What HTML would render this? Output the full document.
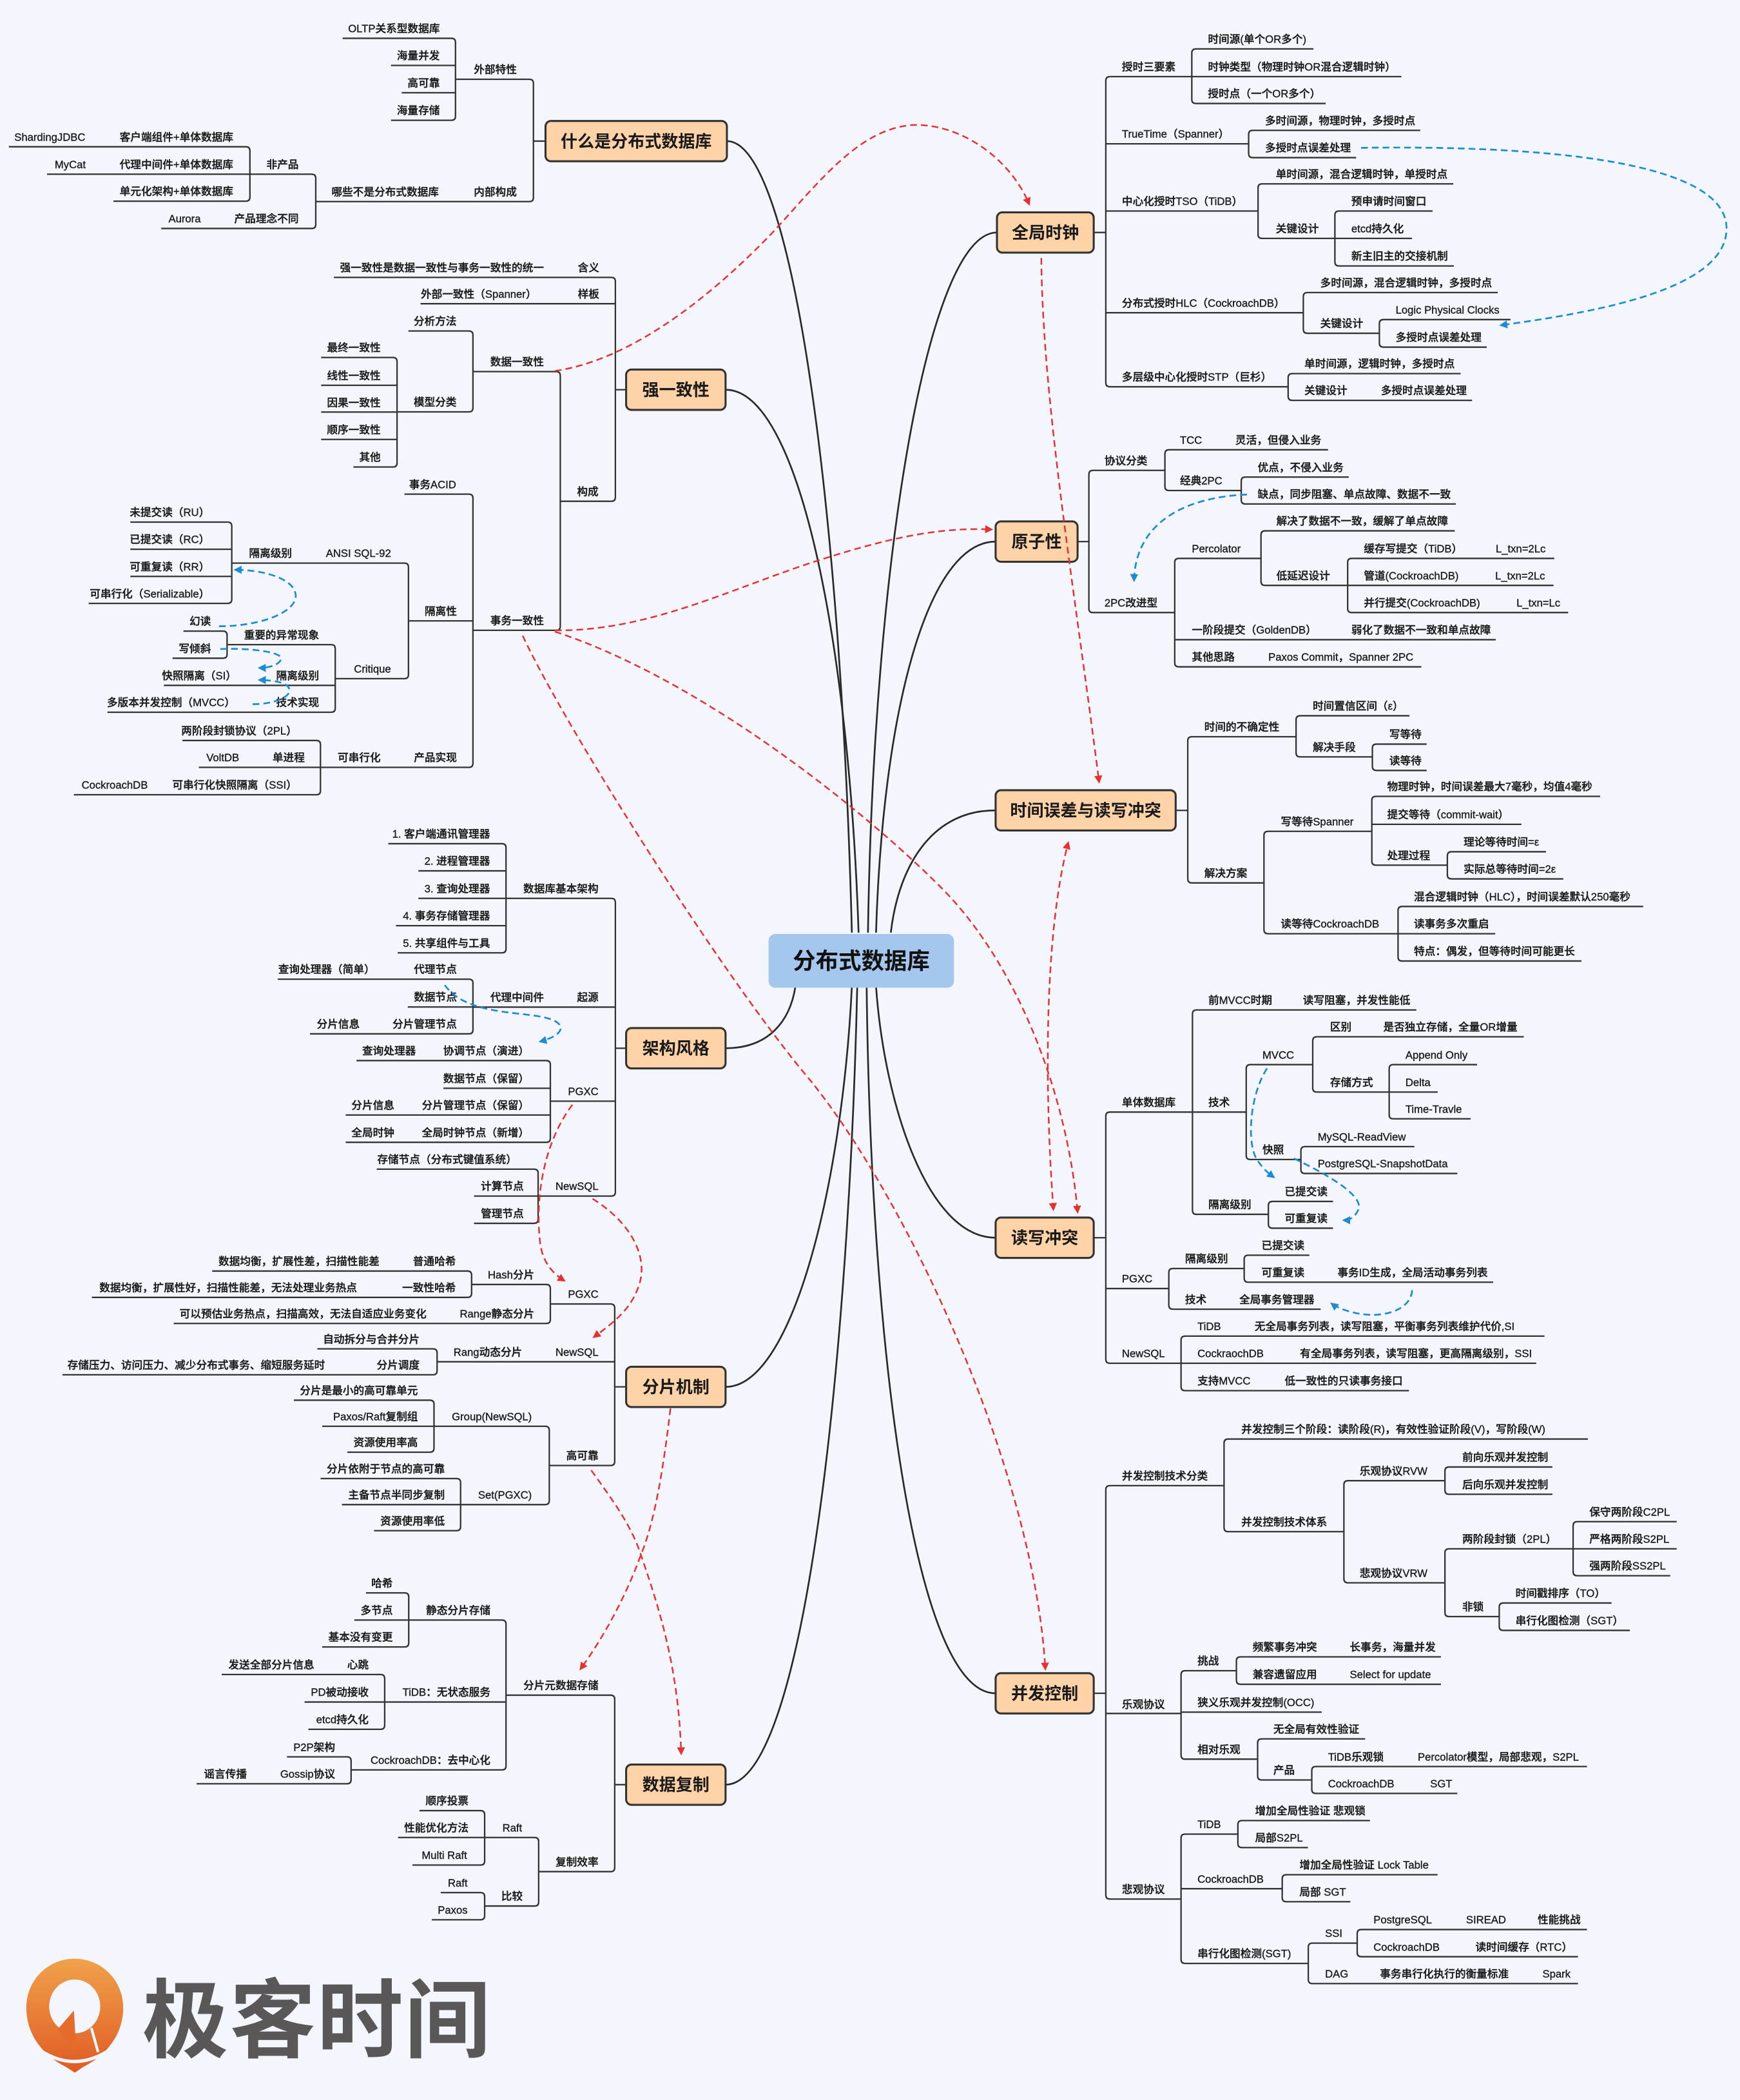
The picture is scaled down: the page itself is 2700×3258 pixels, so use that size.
<!DOCTYPE html>
<html><head><meta charset="utf-8">
<style>
html,body{margin:0;padding:0;background:#f3f7fd;}
svg{display:block}
text{font-family:"Liberation Sans","Noto Sans CJK SC",sans-serif;font-size:8px;fill:#1c1c1c;font-weight:500;stroke:#1c1c1c;stroke-width:0.18}
.e{text-anchor:end}
.m{font-size:12.5px;font-weight:bold;text-anchor:middle;fill:#1a1a1a;stroke:none}
.c{font-size:17px;font-weight:bold;text-anchor:middle;fill:#111;stroke:none}
.tr path{fill:none;stroke:#333;stroke-width:1.1}
.mn rect{fill:#fdd3a7;stroke:#333;stroke-width:1.5}
.cv path{fill:none;stroke:#2a2a2a;stroke-width:1.3}
.rd path{fill:none;stroke:#e8312f;stroke-width:1.2;stroke-dasharray:5 3}
.bl path{fill:none;stroke:#1d8ad8;stroke-width:1.3;stroke-dasharray:5 3}
</style></head><body>
<svg xmlns="http://www.w3.org/2000/svg" width="2700" height="3258" viewBox="0 0 1295 1562.63">
<defs>
<marker id="ar" viewBox="0 0 10 10" refX="8" refY="5" markerWidth="6" markerHeight="6" markerUnits="userSpaceOnUse" orient="auto-start-reverse"><path d="M0,0 L10,5 L0,10 z" fill="#e8312f"/></marker>
<marker id="ab" viewBox="0 0 10 10" refX="8" refY="5" markerWidth="6" markerHeight="6" markerUnits="userSpaceOnUse" orient="auto"><path d="M0,0 L10,5 L0,10 z" fill="#1d8ad8"/></marker>
<linearGradient id="og" x1="0" y1="0" x2="0" y2="1"><stop offset="0" stop-color="#f0a24a"/><stop offset="1" stop-color="#e05a24"/></linearGradient>
</defs>
<rect x="0" y="0" width="1295" height="1562.63" fill="#f3f7fd"/>

<!-- central curves -->
<g class="cv">
<path d="M541,105 C590,105 626,380 634,694"/>
<path d="M540,290 C595,290 632,480 639,694"/>
<path d="M742,173 C690,173 650,420 646,694"/>
<path d="M741,403 C690,403 657,530 652,694"/>
<path d="M741,603 C690,603 668,650 663,694"/>
<path d="M540,780 C572,780 588,760 592,734"/>
<path d="M540,1032 C590,1032 627,880 634,734"/>
<path d="M540,1328 C600,1328 632,1000 638,734"/>
<path d="M741,921 C690,921 658,820 652,734"/>
<path d="M741,1260 C680,1260 648,1000 645,734"/>
</g>

<!-- trees -->
<g class="tr">
<!-- A -->
<path d="M397,105 H406"/>
<path d="M339,59 H394 Q397,59 397,62 V147 Q397,150 394,150 H235"/>
<path d="M255,28.5 H336 Q339,28.5 339,31.5 V86.5 Q339,89.5 336,89.5 H291 M291,48.7 H339 M299,69 H339"/>
<path d="M35,129.6 H232 Q235,129.6 235,132.6 V167 Q235,170 232,170 H120"/>
<path d="M6.6,109.2 H183 Q186,109.2 186,112.2 V146.7 Q186,149.7 183,149.7 H84.4"/>
<!-- B -->
<path d="M458,290 H466"/>
<path d="M248.5,206.4 H455 Q458,206.4 458,209.4 V370 Q458,373 455,373 H417 M313,226 H458"/>
<path d="M352,276.5 H414 Q417,276.5 417,279.5 V466 Q417,469 414,469 H352"/>
<path d="M304,246.3 H349 Q352,246.3 352,249.3 V303.5 Q352,306.5 349,306.5 H295.5"/>
<path d="M239,266 H292.5 Q295.5,266 295.5,269 V344.5 Q295.5,347.5 292.5,347.5 H263 M239,286.7 H295.5 M239,306.6 H295.5 M239,327 H295.5"/>
<path d="M301,367.7 H349 Q352,367.7 352,370.7 V568 Q352,571 349,571 H238.5 M304,462 H352"/>
<path d="M172.5,419 H301 Q304,419 304,422 V502 Q304,505 301,505 H249.5"/>
<path d="M97,388.5 H169.5 Q172.5,388.5 172.5,391.5 V446 Q172.5,449 169.5,449 H66 M97,408.7 H172.5 M97,428.9 H172.5"/>
<path d="M169,479.7 H246.5 Q249.5,479.7 249.5,482.7 V527 Q249.5,530 246.5,530 H80 M122,510 H249.5"/>
<path d="M136.5,469.6 H166 Q169,469.6 169,472.6 V486.8 Q169,489.8 166,489.8 H128.4"/>
<path d="M135.8,551 H235.5 Q238.5,551 238.5,554 V588.4 Q238.5,591.4 235.5,591.4 H55 M148,571 H238.5"/>
<!-- C -->
<path d="M458,780 H466"/>
<path d="M376.6,668.5 H455 Q458,668.5 458,671.5 V887 Q458,890 455,890 H400.5 M352,749.4 H458 M409.6,819.4 H458"/>
<path d="M289,627.8 H373.6 Q376.6,627.8 376.6,630.8 V706 Q376.6,709 373.6,709 H296 M311.4,648 H376.6 M311.4,668.5 H376.6 M294.7,688.8 H376.6"/>
<path d="M206.8,728.6 H349 Q352,728.6 352,731.6 V766.3 Q352,769.3 349,769.3 H230.7 M303.5,749.3 H352"/>
<path d="M265.3,789.2 H406.6 Q409.6,789.2 409.6,792.2 V847 Q409.6,850 406.6,850 H257.3 M330,809.8 H409.6 M257.3,829.7 H409.6"/>
<path d="M280.4,870 H397.5 Q400.5,870 400.5,873 V907.3 Q400.5,910.3 397.5,910.3 H352.8 M352.8,890 H400.5"/>
<!-- D -->
<path d="M457.5,1032 H466"/>
<path d="M409.6,970.3 H454.5 Q457.5,970.3 457.5,973.3 V1087.5 Q457.5,1090.5 454.5,1090.5 H408.8 M325.3,1013.3 H457.5"/>
<path d="M351,955.8 H406.6 Q409.6,955.8 409.6,958.8 V981.8 Q409.6,984.8 406.6,984.8 H129.3"/>
<path d="M157.9,945.8 H348 Q351,945.8 351,948.8 V962.4 Q351,965.4 348,965.4 H68.4"/>
<path d="M236.2,1003.7 H322.3 Q325.3,1003.7 325.3,1006.7 V1020 Q325.3,1023 322.3,1023 H46.5"/>
<path d="M323,1061.3 H405.8 Q408.8,1061.3 408.8,1064.3 V1116.6 Q408.8,1119.6 405.8,1119.6 H342.8"/>
<path d="M218.7,1041.9 H320 Q323,1041.9 323,1044.9 V1077.6 Q323,1080.6 320,1080.6 H258.5 M239.8,1061.3 H323"/>
<path d="M238.6,1100.2 H339.8 Q342.8,1100.2 342.8,1103.2 V1136 Q342.8,1139 339.8,1139 H278.4 M254.5,1119.6 H342.8"/>
<!-- E -->
<path d="M457.5,1328 H466"/>
<path d="M376.6,1261.4 H454.5 Q457.5,1261.4 457.5,1264.4 V1389.7 Q457.5,1392.7 454.5,1392.7 H400.9"/>
<path d="M304.2,1205.5 H373.6 Q376.6,1205.5 376.6,1208.5 V1314 Q376.6,1317 373.6,1317 H261.3 M286.3,1266.5 H376.6"/>
<path d="M272.4,1185.3 H301.2 Q304.2,1185.3 304.2,1188.3 V1222.5 Q304.2,1225.5 301.2,1225.5 H239.8 M263.7,1205.5 H304.2"/>
<path d="M165,1246 H283.3 Q286.3,1246 286.3,1249 V1283.8 Q286.3,1286.8 283.3,1286.8 H229.5 M226.7,1266.5 H286.3"/>
<path d="M213.6,1307.3 H258.3 Q261.3,1307.3 261.3,1310.3 V1324.3 Q261.3,1327.3 258.3,1327.3 H146.3"/>
<path d="M360.7,1367.3 H397.9 Q400.9,1367.3 400.9,1370.3 V1415.3 Q400.9,1418.3 397.9,1418.3 H360.7"/>
<path d="M312.2,1347.3 H357.7 Q360.7,1347.3 360.7,1350.3 V1384.8 Q360.7,1387.8 357.7,1387.8 H307 M296.3,1367.3 H360.7"/>
<path d="M328,1408.3 H357.7 Q360.7,1408.3 360.7,1411.3 V1425.5 Q360.7,1428.5 357.7,1428.5 H321.4"/>
<!-- F -->
<path d="M814,173 H823"/>
<path d="M887,57 H826 Q823,57 823,60 V284.8 Q823,287.8 826,287.8 H958.7 M823,107 H929.3 M823,157 H936.3 M823,232.7 H970"/>
<path d="M977.5,36.4 H890 Q887,36.4 887,39.4 V74 Q887,77 890,77 H986.6 M887,57 H1043"/>
<path d="M1057,97 H932.3 Q929.3,97 929.3,100 V114.3 Q929.3,117.3 932.3,117.3 H1009.3"/>
<path d="M1081.6,136.8 H939.3 Q936.3,136.8 936.3,139.8 V174.4 Q936.3,177.4 939.3,177.4 H993.5"/>
<path d="M1066.2,157 H996.5 Q993.5,157 993.5,160 V194.9 Q993.5,197.9 996.5,197.9 H1082 M993.5,177.4 H1050.9"/>
<path d="M1114.7,217.7 H973 Q970,217.7 970,220.7 V245 Q970,248 973,248 H1026.6"/>
<path d="M1124.2,237.8 H1029.6 Q1026.6,237.8 1026.6,240.8 V255.3 Q1026.6,258.3 1029.6,258.3 H1106.5"/>
<path d="M1087.1,278 H961.7 Q958.7,278 958.7,281 V294.9 Q958.7,297.9 961.7,297.9 H1095.6"/>
<!-- G -->
<path d="M802,403 H810.4"/>
<path d="M867,350 H813.4 Q810.4,350 810.4,353 V452.8 Q810.4,455.8 813.4,455.8 H874.3"/>
<path d="M988.4,334.7 H870 Q867,334.7 867,337.7 V362 Q867,365 870,365 H923.8"/>
<path d="M1003.8,355 H926.8 Q923.8,355 923.8,358 V372 Q923.8,375 926.8,375 H1083.5"/>
<path d="M938.5,415.5 H877.3 Q874.3,415.5 874.3,418.5 V493.2 Q874.3,496.2 877.3,496.2 H1057.8 M874.3,476 H1113.2"/>
<path d="M1082.7,395 H941.5 Q938.5,395 938.5,398 V432.6 Q938.5,435.6 941.5,435.6 H1003"/>
<path d="M1156.8,415.5 H1006 Q1003,415.5 1003,418.5 V452.8 Q1003,455.8 1006,455.8 H1167.1 M1003,435.6 H1156.2"/>
<!-- H -->
<path d="M875,603 H884"/>
<path d="M964.6,548.2 H887 Q884,548.2 884,551.2 V654 Q884,657 887,657 H940.7"/>
<path d="M1049,532.6 H967.6 Q964.6,532.6 964.6,535.6 V560.2 Q964.6,563.2 967.6,563.2 H1021.4"/>
<path d="M1061.8,553.7 H1024.4 Q1021.4,553.7 1021.4,556.7 V570.3 Q1021.4,573.3 1024.4,573.3 H1061.8"/>
<path d="M1021,618.6 H943.7 Q940.7,618.6 940.7,621.6 V691.8 Q940.7,694.8 943.7,694.8 H1040.5"/>
<path d="M1190.9,592.6 H1024 Q1021,592.6 1021,595.6 V640.8 Q1021,643.8 1024,643.8 H1077.2 M1021,613.4 H1132.3"/>
<path d="M1150.6,633.8 H1080.2 Q1077.2,633.8 1077.2,636.8 V651 Q1077.2,654 1080.2,654 H1163.5"/>
<path d="M1222.9,674.5 H1043.5 Q1040.5,674.5 1040.5,677.5 V712.1 Q1040.5,715.1 1043.5,715.1 H1177 M1040.5,694.8 H1112.8"/>
<!-- I -->
<path d="M814,921 H823"/>
<path d="M887.5,827.5 H826 Q823,827.5 823,830.5 V1011.4 Q823,1014.4 826,1014.4 H879 M823,958.8 H869.9"/>
<path d="M1054.1,751.5 H890.5 Q887.5,751.5 887.5,754.5 V900.6 Q887.5,903.6 890.5,903.6 H944 M887.5,827.5 H927.5"/>
<path d="M977,792.2 H930.5 Q927.5,792.2 927.5,795.2 V859.8 Q927.5,862.8 930.5,862.8 H968.2"/>
<path d="M1134.1,771.5 H980 Q977,771.5 977,774.5 V809.6 Q977,812.6 980,812.6 H1033.9"/>
<path d="M1099.3,792.2 H1036.9 Q1033.9,792.2 1033.9,795.2 V829.5 Q1033.9,832.5 1036.9,832.5 H1094.5 M1033.9,812.6 H1070"/>
<path d="M1052.6,853.2 H971.2 Q968.2,853.2 968.2,856.2 V870.2 Q968.2,873.2 971.2,873.2 H1084.6"/>
<path d="M992.1,894 H947 Q944,894 944,897 V910.9 Q944,913.9 947,913.9 H992.1"/>
<path d="M926,943.9 H872.9 Q869.9,943.9 869.9,946.9 V971.2 Q869.9,974.2 872.9,974.2 H982.9"/>
<path d="M974.5,934 H929 Q926,934 926,937 V951.1 Q926,954.1 929,954.1 H1111.3"/>
<path d="M1149.5,994.2 H882 Q879,994.2 879,997.2 V1031.8 Q879,1034.8 882,1034.8 H1048.6 M879,1014.4 H1143.3"/>
<!-- J -->
<path d="M814,1260 H823"/>
<path d="M911,1105.5 H826 Q823,1105.5 823,1108.5 V1410.1 Q823,1413.1 826,1413.1 H879 M823,1275 H879"/>
<path d="M1181.8,1070.8 H914 Q911,1070.8 911,1073.8 V1136.7 Q911,1139.7 914,1139.7 H1000.2"/>
<path d="M1075.4,1101.8 H1003.2 Q1000.2,1101.8 1000.2,1104.8 V1174.8 Q1000.2,1177.8 1003.2,1177.8 H1075.4"/>
<path d="M1155.4,1091.6 H1078.4 Q1075.4,1091.6 1075.4,1094.6 V1108.9 Q1075.4,1111.9 1078.4,1111.9 H1155.4"/>
<path d="M1170.8,1152.5 H1078.4 Q1075.4,1152.5 1075.4,1155.5 V1199.9 Q1075.4,1202.9 1078.4,1202.9 H1115.8"/>
<path d="M1247.9,1132.3 H1173.8 Q1170.8,1132.3 1170.8,1135.3 V1169.5 Q1170.8,1172.5 1173.8,1172.5 H1243.1 M1170.8,1152.5 H1247.9"/>
<path d="M1199.4,1192.8 H1118.8 Q1115.8,1192.8 1115.8,1195.8 V1210.2 Q1115.8,1213.2 1118.8,1213.2 H1213"/>
<path d="M920.2,1243.2 H882 Q879,1243.2 879,1246.2 V1306 Q879,1309 882,1309 H936 M879,1274 H983.7"/>
<path d="M1072.4,1232.9 H923.2 Q920.2,1232.9 920.2,1235.9 V1250.3 Q920.2,1253.3 923.2,1253.3 H1072.4"/>
<path d="M1016,1293.9 H939 Q936,1293.9 936,1296.9 V1321.5 Q936,1324.5 939,1324.5 H976.3"/>
<path d="M1181.1,1314.5 H979.3 Q976.3,1314.5 976.3,1317.5 V1331.5 Q976.3,1334.5 979.3,1334.5 H1084.6"/>
<path d="M921.3,1364.8 H882 Q879,1364.8 879,1367.8 V1458 Q879,1461 882,1461 H973.7 M879,1405.4 H954.3"/>
<path d="M1019.6,1354.7 H924.3 Q921.3,1354.7 921.3,1357.7 V1371.8 Q921.3,1374.8 924.3,1374.8 H973.4"/>
<path d="M1069.9,1395 H957.3 Q954.3,1395 954.3,1398 V1412.1 Q954.3,1415.1 957.3,1415.1 H1005"/>
<path d="M1010.1,1445.9 H976.7 Q973.7,1445.9 973.7,1448.9 V1473 Q973.7,1476 976.7,1476 H1174.4"/>
<path d="M1181.1,1435.8 H1013.1 Q1010.1,1435.8 1010.1,1438.8 V1453 Q1010.1,1456 1013.1,1456 H1174.4"/>
</g>

<!-- left texts -->
<g class="e">
<text class="e" x="384.6" y="54.5">外部特性</text>
<text class="e" x="327.3" y="23.9">OLTP关系型数据库</text>
<text class="e" x="327.3" y="44.2">海量并发</text>
<text class="e" x="327.3" y="64.5">高可靠</text>
<text class="e" x="327.3" y="85">海量存储</text>
<text class="e" x="384.6" y="145.5">内部构成</text>
<text class="e" x="326.6" y="145.5">哪些不是分布式数据库</text>
<text class="e" x="222.3" y="125.1">非产品</text>
<text class="e" x="173.6" y="104.7">客户端组件+单体数据库</text>
<text class="e" x="63.5" y="104.7">ShardingJDBC</text>
<text class="e" x="173.6" y="125.1">代理中间件+单体数据库</text>
<text class="e" x="63.8" y="125.1">MyCat</text>
<text class="e" x="173.6" y="145.2">单元化架构+单体数据库</text>
<text class="e" x="222.3" y="165.5">产品理念不同</text>
<text class="e" x="149.4" y="165.5">Aurora</text>

<text class="e" x="446" y="201.9">含义</text>
<text class="e" x="404.8" y="201.9">强一致性是数据一致性与事务一致性的统一</text>
<text class="e" x="446" y="221.5">样板</text>
<text class="e" x="399.3" y="221.5">外部一致性（Spanner）</text>
<text class="e" x="445.4" y="368.5">构成</text>
<text class="e" x="404.8" y="272">数据一致性</text>
<text class="e" x="339.8" y="241.8">分析方法</text>
<text class="e" x="339.8" y="302">模型分类</text>
<text class="e" x="283.3" y="261.5">最终一致性</text>
<text class="e" x="283.3" y="282.2">线性一致性</text>
<text class="e" x="283.3" y="302.3">因果一致性</text>
<text class="e" x="283.3" y="322.5">顺序一致性</text>
<text class="e" x="283.3" y="343">其他</text>
<text class="e" x="404.8" y="464.5">事务一致性</text>
<text class="e" x="339.5" y="363.2">事务ACID</text>
<text class="e" x="340" y="457.5">隔离性</text>
<text class="e" x="291" y="414.5">ANSI SQL-92</text>
<text class="e" x="217.3" y="414.5">隔离级别</text>
<text class="e" x="156" y="384">未提交读（RU）</text>
<text class="e" x="156" y="404.2">已提交读（RC）</text>
<text class="e" x="156" y="424.4">可重复读（RR）</text>
<text class="e" x="156" y="444.5">可串行化（Serializable）</text>
<text class="e" x="291" y="500.5">Critique</text>
<text class="e" x="237.5" y="475.2">重要的异常现象</text>
<text class="e" x="157" y="465.1">幻读</text>
<text class="e" x="157" y="485.3">写倾斜</text>
<text class="e" x="237.5" y="505.5">隔离级别</text>
<text class="e" x="176" y="505.5">快照隔离（SI）</text>
<text class="e" x="237.5" y="525.5">技术实现</text>
<text class="e" x="175" y="525.5">多版本并发控制（MVCC）</text>
<text class="e" x="340" y="566.5">产品实现</text>
<text class="e" x="283.3" y="566.5">可串行化</text>
<text class="e" x="226.8" y="566.5">单进程</text>
<text class="e" x="178" y="566.5">VoltDB</text>
<text class="e" x="221" y="546.5">两阶段封锁协议（2PL）</text>
<text class="e" x="221" y="586.9">可串行化快照隔离（SSI）</text>
<text class="e" x="110" y="586.9">CockroachDB</text>

<text class="e" x="445.4" y="664">数据库基本架构</text>
<text class="e" x="364.7" y="623.3">1. 客户端通讯管理器</text>
<text class="e" x="364.7" y="643.5">2. 进程管理器</text>
<text class="e" x="364.7" y="664">3. 查询处理器</text>
<text class="e" x="364.7" y="684.3">4. 事务存储管理器</text>
<text class="e" x="364.7" y="704.5">5. 共享组件与工具</text>
<text class="e" x="445.4" y="744.9">起源</text>
<text class="e" x="404.8" y="744.9">代理中间件</text>
<text class="e" x="340" y="724.1">代理节点</text>
<text class="e" x="279" y="724.1">查询处理器（简单）</text>
<text class="e" x="340" y="744.7">数据节点</text>
<text class="e" x="340" y="764.8">分片管理节点</text>
<text class="e" x="267.7" y="764.8">分片信息</text>
<text class="e" x="445.4" y="814.9">PGXC</text>
<text class="e" x="393.8" y="784.7">协调节点（演进）</text>
<text class="e" x="309.5" y="784.7">查询处理器</text>
<text class="e" x="393.8" y="805.3">数据节点（保留）</text>
<text class="e" x="393.8" y="825.2">分片管理节点（保留）</text>
<text class="e" x="293.5" y="825.2">分片信息</text>
<text class="e" x="393.8" y="845.5">全局时钟节点（新增）</text>
<text class="e" x="293.5" y="845.5">全局时钟</text>
<text class="e" x="445.4" y="885.5">NewSQL</text>
<text class="e" x="384.6" y="865.5">存储节点（分布式键值系统）</text>
<text class="e" x="389.8" y="885.5">计算节点</text>
<text class="e" x="389.8" y="905.8">管理节点</text>

<text class="e" x="445.4" y="965.8">PGXC</text>
<text class="e" x="397.7" y="951.3">Hash分片</text>
<text class="e" x="339.3" y="941.3">普通哈希</text>
<text class="e" x="282.4" y="941.3">数据均衡，扩展性差，扫描性能差</text>
<text class="e" x="339.3" y="960.9">一致性哈希</text>
<text class="e" x="265.7" y="960.9">数据均衡，扩展性好，扫描性能差，无法处理业务热点</text>
<text class="e" x="397.7" y="980.3">Range静态分片</text>
<text class="e" x="317.4" y="980.3">可以预估业务热点，扫描高效，无法自适应业务变化</text>
<text class="e" x="445.4" y="1008.8">NewSQL</text>
<text class="e" x="388.6" y="1008.8">Rang动态分片</text>
<text class="e" x="312.3" y="999.2">自动拆分与合并分片</text>
<text class="e" x="312.3" y="1018.5">分片调度</text>
<text class="e" x="241.9" y="1018.5">存储压力、访问压力、减少分布式事务、缩短服务延时</text>
<text class="e" x="445.4" y="1086">高可靠</text>
<text class="e" x="395.8" y="1056.8">Group(NewSQL)</text>
<text class="e" x="311" y="1037.4">分片是最小的高可靠单元</text>
<text class="e" x="311" y="1056.8">Paxos/Raft复制组</text>
<text class="e" x="311" y="1076.1">资源使用率高</text>
<text class="e" x="395.8" y="1115.1">Set(PGXC)</text>
<text class="e" x="331" y="1095.7">分片依附于节点的高可靠</text>
<text class="e" x="331" y="1115.1">主备节点半同步复制</text>
<text class="e" x="331" y="1134.5">资源使用率低</text>

<text class="e" x="445.4" y="1256.9">分片元数据存储</text>
<text class="e" x="365" y="1201">静态分片存储</text>
<text class="e" x="292.3" y="1180.8">哈希</text>
<text class="e" x="292.3" y="1201">多节点</text>
<text class="e" x="292.3" y="1221">基本没有变更</text>
<text class="e" x="365" y="1262">TiDB：无状态服务</text>
<text class="e" x="274.4" y="1241.5">心跳</text>
<text class="e" x="233.9" y="1241.5">发送全部分片信息</text>
<text class="e" x="274.4" y="1262">PD被动接收</text>
<text class="e" x="274.4" y="1282.3">etcd持久化</text>
<text class="e" x="365" y="1312.5">CockroachDB：去中心化</text>
<text class="e" x="249.4" y="1302.8">P2P架构</text>
<text class="e" x="249.4" y="1322.8">Gossip协议</text>
<text class="e" x="183.7" y="1322.8">谣言传播</text>
<text class="e" x="445.4" y="1388.2">复制效率</text>
<text class="e" x="388.6" y="1362.8">Raft</text>
<text class="e" x="348.7" y="1342.8">顺序投票</text>
<text class="e" x="348.7" y="1362.8">性能优化方法</text>
<text class="e" x="347.6" y="1383.3">Multi Raft</text>
<text class="e" x="389" y="1413.8">比较</text>
<text class="e" x="348" y="1403.8">Raft</text>
<text class="e" x="348" y="1424">Paxos</text>
</g>

<!-- right texts -->
<g>
<text x="835" y="52.5">授时三要素</text>
<text x="899" y="31.9">时间源(单个OR多个)</text>
<text x="899" y="52.5">时钟类型（物理时钟OR混合逻辑时钟）</text>
<text x="899" y="72.5">授时点（一个OR多个）</text>
<text x="835" y="102.5">TrueTime（Spanner）</text>
<text x="941.5" y="92.5">多时间源，物理时钟，多授时点</text>
<text x="941.5" y="112.8">多授时点误差处理</text>
<text x="835" y="152.5">中心化授时TSO（TiDB）</text>
<text x="949.5" y="132.3">单时间源，混合逻辑时钟，单授时点</text>
<text x="949.5" y="172.9">关键设计</text>
<text x="1005.7" y="152.5">预申请时间窗口</text>
<text x="1005.7" y="172.9">etcd持久化</text>
<text x="1005.7" y="193.4">新主旧主的交接机制</text>
<text x="835" y="228.2">分布式授时HLC（CockroachDB）</text>
<text x="982.6" y="213.2">多时间源，混合逻辑时钟，多授时点</text>
<text x="982.6" y="243.5">关键设计</text>
<text x="1038.7" y="233.3">Logic Physical Clocks</text>
<text x="1038.7" y="253.8">多授时点误差处理</text>
<text x="835" y="283.3">多层级中心化授时STP（巨杉）</text>
<text x="970.8" y="273.5">单时间源，逻辑时钟，多授时点</text>
<text x="970.8" y="293.4">关键设计</text>
<text x="1027.7" y="293.4">多授时点误差处理</text>

<text x="822" y="345.5">协议分类</text>
<text x="878.2" y="330.2">TCC</text>
<text x="919.4" y="330.2">灵活，但侵入业务</text>
<text x="878.2" y="360.5">经典2PC</text>
<text x="936" y="350.5">优点，不侵入业务</text>
<text x="936" y="370.5">缺点，同步阻塞、单点故障、数据不一致</text>
<text x="822" y="451.3">2PC改进型</text>
<text x="887" y="411">Percolator</text>
<text x="949.9" y="390.5">解决了数据不一致，缓解了单点故障</text>
<text x="949.9" y="431.1">低延迟设计</text>
<text x="1015" y="411">缓存写提交（TiDB）</text>
<text x="1113.2" y="411">L_txn=2Lc</text>
<text x="1015" y="431.1">管道(CockroachDB)</text>
<text x="1112.8" y="431.1">L_txn=2Lc</text>
<text x="1015" y="451.3">并行提交(CockroachDB)</text>
<text x="1128.6" y="451.3">L_txn=Lc</text>
<text x="887" y="471.5">一阶段提交（GoldenDB）</text>
<text x="1005.7" y="471.5">弱化了数据不一致和单点故障</text>
<text x="887" y="491.7">其他思路</text>
<text x="944" y="491.7">Paxos Commit，Spanner 2PC</text>

<text x="896.3" y="543.7">时间的不确定性</text>
<text x="977" y="528.1">时间置信区间（ε）</text>
<text x="977" y="558.7">解决手段</text>
<text x="1034" y="549.2">写等待</text>
<text x="1034" y="568.8">读等待</text>
<text x="896.3" y="652.5">解决方案</text>
<text x="953.2" y="614.1">写等待Spanner</text>
<text x="1032.4" y="588.1">物理时钟，时间误差最大7毫秒，均值4毫秒</text>
<text x="1032.4" y="608.9">提交等待（commit-wait）</text>
<text x="1032.4" y="639.3">处理过程</text>
<text x="1089.3" y="629.3">理论等待时间=ε</text>
<text x="1089.3" y="649.5">实际总等待时间=2ε</text>
<text x="953.2" y="690.3">读等待CockroachDB</text>
<text x="1052.3" y="670">混合逻辑时钟（HLC），时间误差默认250毫秒</text>
<text x="1052.3" y="690.3">读事务多次重启</text>
<text x="1052.3" y="710.6">特点：偶发，但等待时间可能更长</text>

<text x="835" y="823">单体数据库</text>
<text x="899.3" y="747">前MVCC时期</text>
<text x="969.7" y="747">读写阻塞，并发性能低</text>
<text x="899.3" y="823">技术</text>
<text x="939.6" y="787.7">MVCC</text>
<text x="989.9" y="767">区别</text>
<text x="1029.5" y="767">是否独立存储，全量OR增量</text>
<text x="989.9" y="808.1">存储方式</text>
<text x="1046" y="787.7">Append Only</text>
<text x="1046" y="808.1">Delta</text>
<text x="1046" y="828">Time-Travle</text>
<text x="939.6" y="858.3">快照</text>
<text x="980.7" y="848.7">MySQL-ReadView</text>
<text x="980.7" y="868.7">PostgreSQL-SnapshotData</text>
<text x="899.3" y="899.1">隔离级别</text>
<text x="956.1" y="889.5">已提交读</text>
<text x="956.1" y="909.4">可重复读</text>
<text x="835" y="954.3">PGXC</text>
<text x="882" y="939.4">隔离级别</text>
<text x="938.9" y="929.5">已提交读</text>
<text x="938.9" y="949.6">可重复读</text>
<text x="995.4" y="949.6">事务ID生成，全局活动事务列表</text>
<text x="882" y="969.7">技术</text>
<text x="922.3" y="969.7">全局事务管理器</text>
<text x="835" y="1009.9">NewSQL</text>
<text x="891.2" y="989.7">TiDB</text>
<text x="933.7" y="989.7">无全局事务列表，读写阻塞，平衡事务列表维护代价,SI</text>
<text x="891.2" y="1009.9">CockraochDB</text>
<text x="967.5" y="1009.9">有全局事务列表，读写阻塞，更高隔离级别，SSI</text>
<text x="891.2" y="1030.3">支持MVCC</text>
<text x="956.1" y="1030.3">低一致性的只读事务接口</text>

<text x="835" y="1101">并发控制技术分类</text>
<text x="923.8" y="1066.3">并发控制三个阶段：读阶段(R)，有效性验证阶段(V)，写阶段(W)</text>
<text x="923.8" y="1135.2">并发控制技术体系</text>
<text x="1011.9" y="1097.3">乐观协议RVW</text>
<text x="1088.3" y="1087.1">前向乐观并发控制</text>
<text x="1088.3" y="1107.4">后向乐观并发控制</text>
<text x="1011.9" y="1173.3">悲观协议VRW</text>
<text x="1088.3" y="1148">两阶段封锁（2PL）</text>
<text x="1182.9" y="1127.8">保守两阶段C2PL</text>
<text x="1182.9" y="1148">严格两阶段S2PL</text>
<text x="1182.9" y="1168">强两阶段SS2PL</text>
<text x="1088.3" y="1198.4">非锁</text>
<text x="1127.9" y="1188.3">时间戳排序（TO）</text>
<text x="1127.9" y="1208.7">串行化图检测（SGT）</text>
<text x="835" y="1271">乐观协议</text>
<text x="891.2" y="1238.7">挑战</text>
<text x="932.3" y="1228.4">频繁事务冲突</text>
<text x="1004.6" y="1228.4">长事务，海量并发</text>
<text x="932.3" y="1248.8">兼容遗留应用</text>
<text x="1004.6" y="1248.8">Select for update</text>
<text x="891.2" y="1269.5">狭义乐观并发控制(OCC)</text>
<text x="891.2" y="1304.5">相对乐观</text>
<text x="947.7" y="1289.4">无全局有效性验证</text>
<text x="947.7" y="1320">产品</text>
<text x="988.4" y="1310">TiDB乐观锁</text>
<text x="1055.2" y="1310">Percolator模型，局部悲观，S2PL</text>
<text x="988.4" y="1330">CockroachDB</text>
<text x="1064.4" y="1330">SGT</text>
<text x="835" y="1408.6">悲观协议</text>
<text x="891.2" y="1360.3">TiDB</text>
<text x="934.1" y="1350.2">增加全局性验证 悲观锁</text>
<text x="934.1" y="1370.3">局部S2PL</text>
<text x="891.2" y="1400.9">CockroachDB</text>
<text x="967.1" y="1390.5">增加全局性验证 Lock Table</text>
<text x="967.1" y="1410.6">局部 SGT</text>
<text x="891.2" y="1456.5">串行化图检测(SGT)</text>
<text x="986.2" y="1441.4">SSI</text>
<text x="1022.2" y="1431.3">PostgreSQL</text>
<text x="1091.1" y="1431.3">SIREAD</text>
<text x="1144.4" y="1431.3">性能挑战</text>
<text x="1022.2" y="1451.5">CockroachDB</text>
<text x="1098.1" y="1451.5">读时间缓存（RTC）</text>
<text x="986.2" y="1471.5">DAG</text>
<text x="1027" y="1471.5">事务串行化执行的衡量标准</text>
<text x="1148" y="1471.5">Spark</text>
</g>

<!-- main nodes -->
<g class="mn">
<rect x="406" y="90" width="135" height="30" rx="4"/>
<rect x="466" y="275" width="74" height="30" rx="4"/>
<rect x="466" y="765" width="74" height="30" rx="4"/>
<rect x="466" y="1017" width="74" height="30" rx="4"/>
<rect x="466" y="1313" width="74" height="30" rx="4"/>
<rect x="742" y="158" width="72" height="30" rx="4"/>
<rect x="741" y="388" width="61" height="30" rx="4"/>
<rect x="741" y="588" width="134" height="30" rx="4"/>
<rect x="741" y="906" width="73" height="30" rx="4"/>
<rect x="741" y="1245" width="73" height="30" rx="4"/>
</g>
<text class="m" x="473.5" y="109.5">什么是分布式数据库</text>
<text class="m" x="503" y="294.5">强一致性</text>
<text class="m" x="503" y="784.5">架构风格</text>
<text class="m" x="503" y="1036.5">分片机制</text>
<text class="m" x="503" y="1332.5">数据复制</text>
<text class="m" x="778" y="177.5">全局时钟</text>
<text class="m" x="771.5" y="407.5">原子性</text>
<text class="m" x="808" y="607.5">时间误差与读写冲突</text>
<text class="m" x="777.5" y="925.5">读写冲突</text>
<text class="m" x="777.5" y="1264.5">并发控制</text>

<!-- central -->
<rect x="572" y="695" width="138" height="40" rx="5" fill="#a5c7ee"/>
<text class="c" x="641" y="721">分布式数据库</text>

<!-- red dashed relations -->
<g class="rd">
<path d="M413,276 C470,268 530,220 575,173 C610,135 640,95 680,93 C715,92 752,118 766,152" marker-end="url(#ar)"/>
<path d="M413,469 C480,470 540,440 600,420 C660,400 700,392 738,394" marker-end="url(#ar)"/>
<path d="M413,470 C520,505 640,600 700,660 C760,720 795,820 802,902" marker-end="url(#ar)"/>
<path d="M784,900 C778,820 776,700 795,627" marker-end="url(#ar)" marker-start="url(#ar)"/>
<path d="M775,192 C776,300 800,440 818,582" marker-end="url(#ar)"/>
<path d="M426,822 C405,850 398,890 402,925 C404,940 412,948 420,953" marker-end="url(#ar)"/>
<path d="M441,892 C470,910 482,935 476,955 C470,975 455,985 442,995" marker-end="url(#ar)"/>
<path d="M389,473 C420,540 540,730 604,805 C680,900 770,1100 778,1242" marker-end="url(#ar)"/>
<path d="M499,1048 C494,1090 488,1130 477,1157 C465,1190 448,1220 432,1242" marker-end="url(#ar)"/>
<path d="M440,1094 C455,1115 470,1135 477,1157 C490,1195 505,1240 507,1305" marker-end="url(#ar)"/>
</g>

<!-- blue dashed relations -->
<g class="bl">
<path d="M163,466 C195,466 222,455 220,442 C218,430 195,424 175,424" marker-end="url(#ab)"/>
<path d="M164,483 C185,482 212,485 209,491 C207,495 200,497 193,497" marker-end="url(#ab)"/>
<path d="M188,524 C205,524 218,518 215,512 C213,507 200,506 193,506" marker-end="url(#ab)"/>
<path d="M331,733 C350,760 405,750 416,762 C421,768 410,773 402,775" marker-end="url(#ab)"/>
<path d="M1013,110 C1150,108 1285,120 1285,170 C1285,215 1190,232 1117,242" marker-end="url(#ab)"/>
<path d="M928,368 C880,370 845,390 844,432" marker-end="url(#ab)"/>
<path d="M943,795 C930,815 928,850 935,862 C940,870 944,873 948,876" marker-end="url(#ab)"/>
<path d="M963,862 C990,875 1015,890 1011,900 C1008,907 1003,908 1000,908" marker-end="url(#ab)"/>
<path d="M1051,960 C1050,975 1030,980 1015,978 C1005,977 995,973 991,970" marker-end="url(#ab)"/>
</g>

<!-- logo -->
<path d="M55.7,1457.5 C76,1457.5 91.7,1474 91.7,1494 C91.7,1515 78,1530 62,1538 L55.7,1542.3 L49,1538 C33,1530 19.6,1515 19.6,1494 C19.6,1474 35,1457.5 55.7,1457.5 Z" fill="url(#og)"/>
<ellipse cx="55.6" cy="1493" rx="19" ry="20" fill="#f3f7fd"/>
<polygon points="43,1510 55,1496 57,1529" fill="#e56a2c"/>
<path d="M32,1527 Q55,1541 79,1527" fill="none" stroke="#f3f7fd" stroke-width="2.5"/>
<path d="M68,1509 L73,1527" fill="none" stroke="#f3f7fd" stroke-width="2"/>
<text x="106" y="1526" style="font-size:64px;font-weight:bold;fill:#595757;stroke:none;letter-spacing:1px">极客时间</text>
</svg>
</body></html>
